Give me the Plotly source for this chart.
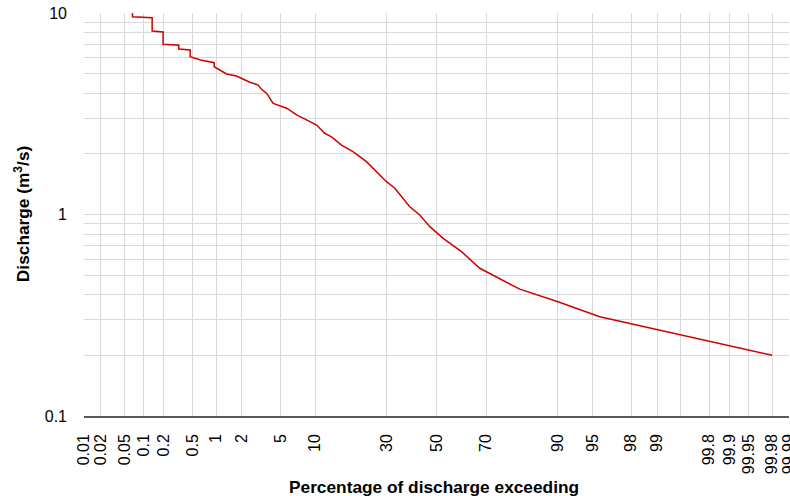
import plotly.graph_objects as go
from statistics import NormalDist

# ---- data (percent of time exceeded, discharge m3/s)
exceed_pct = [0.067, 0.067, 0.135, 0.135, 0.196, 0.196, 0.327, 0.327, 0.468, 0.468,
              0.64, 0.95, 0.95, 1.34, 1.74, 2.45, 3.0, 3.24, 3.65, 4.24,
              5.7, 7.0, 9.1, 10.3, 11.9, 13.4, 15.8, 18.9, 23.0, 26.3,
              29.9, 33.0, 38.9, 43.0, 47.2, 52.8, 60.4, 67.6, 73.7, 81.0,
              90.0, 95.75, 99.98]
discharge = [10.6, 9.58, 9.48, 8.14, 8.05, 6.99, 6.92, 6.63, 6.55, 6.07,
             5.85, 5.67, 5.41, 4.98, 4.87, 4.53, 4.39, 4.18, 4.00, 3.56,
             3.37, 3.12, 2.89, 2.78, 2.53, 2.43, 2.21, 2.05, 1.83, 1.63,
             1.455, 1.35, 1.093, 0.994, 0.870, 0.762, 0.654, 0.541, 0.491, 0.426,
             0.369, 0.311, 0.2]

tick_pct = [0.01, 0.02, 0.05, 0.1, 0.2, 0.5, 1, 2, 5, 10, 30, 50, 70,
            90, 95, 98, 99, 99.8, 99.9, 99.95, 99.98, 99.99]
tick_labels = ["0.01", "0.02", "0.05", "0.1", "0.2", "0.5", "1", "2", "5", "10", "30", "50", "70",
               "90", "95", "98", "99", "99.8", "99.9", "99.95", "99.98", "99.99"]
extra_grid_pct = [99.5]

y_major = [0.1, 1, 10]
y_major_labels = ["0.1", "1", "10"]
y_minor = [0.2, 0.3, 0.4, 0.5, 0.6, 0.7, 0.8, 0.9,
           2, 3, 4, 5, 6, 7, 8, 9]

nd = NormalDist()
def prob(p):
    return nd.inv_cdf(p / 100.0)

xz = [prob(p) for p in exceed_pct]
tick_z = [prob(p) for p in tick_pct]
extra_z = [prob(p) for p in extra_grid_pct]

font = "Liberation Sans, Arial, sans-serif"
grid = "#d9d9d9"

fig = go.Figure()
fig.add_trace(go.Scatter(x=xz, y=discharge, mode="lines",
                         line=dict(color="#d00000", width=1.5),
                         hoverinfo="skip", showlegend=False))

fig.update_layout(
    template="none",
    width=790, height=496,
    margin=dict(l=84, r=1, t=13, b=80),
    paper_bgcolor="white", plot_bgcolor="white",
    font=dict(family=font, size=16, color="#000000"),
    showlegend=False,
    xaxis=dict(
        range=[prob(0.01), prob(99.99)],
        tickmode="array", tickvals=tick_z, ticktext=tick_labels,
        tickangle=-90, showgrid=True, gridcolor=grid, gridwidth=1,
        minor=dict(tickmode="array", tickvals=extra_z, showgrid=True,
                   gridcolor=grid, gridwidth=1, ticks=""),
        zeroline=False, showline=True, linecolor="#595959", linewidth=1.5,
        ticks="", ticklabelstandoff=10, ticklabeloverflow="allow",
        automargin=False, tickfont=dict(size=16, color="#000000"),
    ),
    yaxis=dict(
        type="log", range=[-1, 1],
        tickmode="array", tickvals=y_major, ticktext=y_major_labels,
        showgrid=True, gridcolor=grid, gridwidth=1,
        minor=dict(tickmode="array", tickvals=y_minor, showgrid=True,
                   gridcolor=grid, gridwidth=1, ticks=""),
        zeroline=False, showline=False, ticks="",
        ticklabelstandoff=16, automargin=False, tickfont=dict(size=16, color="#000000"),
    ),
    annotations=[
        dict(text="<b>Percentage of discharge exceeding</b>", xref="paper", yref="paper",
             x=0.4967, y=-0.1754, xanchor="center", yanchor="middle", showarrow=False,
             font=dict(family=font, size=17.3, color="#000000")),
        dict(text="<b>Discharge (m<sup>3</sup>/s)</b>", xref="paper", yref="paper",
             x=-0.0879, y=0.501, xanchor="center", yanchor="middle", showarrow=False,
             textangle=-90, font=dict(family=font, size=17.3, color="#000000")),
    ],
)

fig.write_html("out.html")
